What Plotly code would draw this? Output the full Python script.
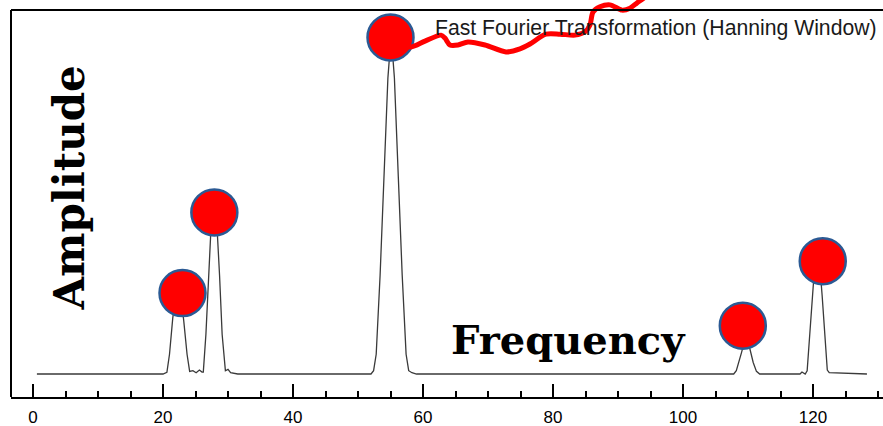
import plotly.graph_objects as go

# Spectrum (frequency vs amplitude)
freq = [0.6, 10.0, 20.0, 20.6, 21.0, 21.5, 22.0, 22.35, 22.7, 23.2, 23.7, 24.1, 24.6, 25.1, 25.6, 26.0,
        26.2, 26.6, 27.0, 27.4, 27.85, 28.3, 28.7, 29.1, 29.6, 30.0, 30.4, 31.5, 40.0,
        52.0, 52.4, 52.8, 53.4, 54.0, 54.6, 55.1, 55.6, 56.2, 56.8, 57.4, 57.8, 58.3, 59.0, 80.0,
        107.8, 108.2, 108.6, 109.0, 109.4, 109.7, 110.0, 110.4, 110.8, 111.3, 111.8, 118.0, 118.3, 118.8,
        119.1, 119.5, 119.9, 120.3, 120.65, 121.0, 121.4, 121.8, 122.2, 122.5, 128.3]
amplitude = [0.0, 0.0, 0.0, 0.005, 0.06, 0.17, 0.245, 0.27, 0.25, 0.16, 0.06, 0.008, 0.01, 0.004, 0.012, 0.006,
             0.006, 0.12, 0.3, 0.45, 0.51, 0.45, 0.3, 0.12, 0.01, 0.014, 0.004, 0.0, 0.0,
             0.0, 0.01, 0.06, 0.3, 0.6, 0.9, 1.03, 0.9, 0.6, 0.3, 0.06, 0.01, 0.004, 0.0, 0.0,
             0.0, 0.01, 0.035, 0.065, 0.095, 0.11, 0.1, 0.07, 0.035, 0.008, 0.0, 0.0, 0.006, 0.0,
             0.01, 0.12, 0.24, 0.34, 0.37, 0.34, 0.24, 0.12, 0.012, 0.004, 0.0]

# Red circle markers placed on peaks
peak_freq = [23.0, 27.9, 55.0, 109.2, 121.5]
peak_amp = [0.246, 0.491, 1.023, 0.147, 0.343]

# Hand-drawn red squiggle leaving the tallest peak
squiggle_freq = [55.0, 56.15, 58.15, 60.31, 62.77, 63.38, 64.15, 65.38, 66.92, 69.54, 72.77, 74.92, 76.46,
                 78.92, 81.08, 83.38, 84.92, 85.69, 86.15, 87.23, 88.77, 90.62, 91.85, 92.92, 94.0]
squiggle_amp = [1.023, 1.003, 0.994, 1.012, 1.030, 1.021, 1.000, 1.000, 1.009, 1.000, 0.979, 0.988, 1.003,
                1.033, 1.033, 1.030, 1.040, 1.061, 1.100, 1.116, 1.122, 1.106, 1.112, 1.128, 1.143]

x_ticks = [0, 20, 40, 60, 80, 100, 120]
x_range = [-3.385, 130.77]
y_range = [-0.0699, 1.1368]
frame_top = 1.1064

fig = go.Figure()
fig.add_trace(go.Scatter(x=freq, y=amplitude, mode="lines",
                         line=dict(color="#3a3a3a", width=1.3), hoverinfo="skip"))
fig.add_trace(go.Scatter(x=peak_freq, y=peak_amp, mode="markers",
                         marker=dict(size=46, color="#ff0000", line=dict(color="#2b5a94", width=2.5)),
                         cliponaxis=False, hoverinfo="skip"))
fig.add_trace(go.Scatter(x=squiggle_freq, y=squiggle_amp, mode="lines",
                         line=dict(color="#ff0000", width=5, shape="spline", smoothing=0.8),
                         hoverinfo="skip"))

fig.update_layout(
    width=883, height=426,
    margin=dict(l=11, r=0, t=0, b=29),
    paper_bgcolor="white", plot_bgcolor="white",
    showlegend=False,
    xaxis=dict(range=x_range, showgrid=False, zeroline=False, automargin=False,
               showline=True, linecolor="black", linewidth=2,
               tickmode="array", tickvals=x_ticks, ticktext=[str(t) for t in x_ticks],
               ticks="inside", ticklen=13, tickwidth=2, tickcolor="black", ticklabelstandoff=4,
               tickfont=dict(family="Liberation Sans, Arial, sans-serif", size=17, color="black"),
               minor=dict(dtick=5, tick0=0, ticks="inside", ticklen=6, tickwidth=2, tickcolor="black")),
    yaxis=dict(range=y_range, showgrid=False, zeroline=False, showline=False, automargin=False,
               showticklabels=False, ticks=""),
    shapes=[
        dict(type="line", xref="paper", yref="y", x0=0, x1=1, y0=frame_top, y1=frame_top,
             line=dict(color="black", width=2)),
        dict(type="line", xref="paper", yref="y", x0=0, x1=0, y0=y_range[0], y1=frame_top,
             line=dict(color="black", width=2)),
    ],
    annotations=[
        dict(text="Fast Fourier Transformation (Hanning Window)", xref="paper", yref="paper",
             x=0.9954, y=0.9295, xanchor="right", yanchor="middle", showarrow=False,
             font=dict(family="Liberation Sans, Arial, sans-serif", size=21.2, color="#1a1a1a")),
        dict(text="<b>Amplitude</b>", xref="paper", yref="paper", x=0.0671, y=0.5264,
             xanchor="center", yanchor="middle", textangle=-90, showarrow=False,
             font=dict(family="DejaVu Serif", size=42, color="black")),
        dict(text="<b>Frequency</b>", xref="paper", yref="paper", x=0.6388, y=0.146,
             xanchor="center", yanchor="middle", showarrow=False,
             font=dict(family="DejaVu Serif", size=40, color="black")),
    ],
)

fig.write_html("out.html", config={"displayModeBar": False},
               post_script="document.body.style.margin='0';document.body.style.overflow='hidden';")
